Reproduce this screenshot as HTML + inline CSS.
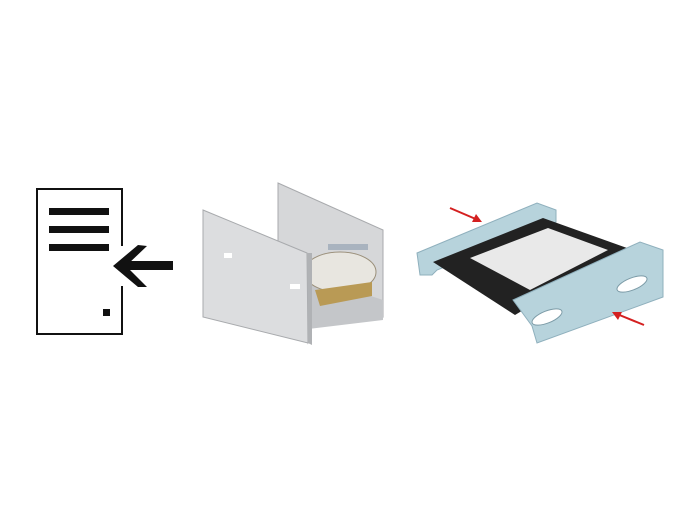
<!DOCTYPE html>
<html><head><style>body{margin:0;background:#fff}svg{display:block}</style></head>
<body>
<svg width="700" height="530" viewBox="0 0 700 530" xmlns="http://www.w3.org/2000/svg">
<rect width="700" height="530" fill="#fff"/>
<!-- document icon -->
<polyline points="122,246 122,189 37,189 37,334 122,334 122,286" fill="none" stroke="#111" stroke-width="2"/>
<rect x="49" y="208" width="60" height="7" fill="#111"/>
<rect x="49" y="226" width="60" height="7" fill="#111"/>
<rect x="49" y="244" width="60" height="7" fill="#111"/>
<rect x="103" y="309" width="7" height="7" fill="#111"/>
<polygon points="113,266 138,245 147,246 126,266 147,287 138,287" fill="#111"/>
<rect x="122" y="261" width="51" height="9" fill="#111"/>
<!-- cage -->
<polygon points="278,183 383,230 383,317 278,272" fill="#d6d7d9" stroke="#a8aaad"/>
<polygon points="290,270 383,300 383,320 300,330 308,345" fill="#c4c6c9"/>
<ellipse cx="340" cy="272" rx="36" ry="20" fill="#e8e6e0" stroke="#9a8f7a"/>
<polygon points="315,290 372,282 372,296 320,306" fill="#b99a55"/>
<polygon points="203,210 307,253 308,343 203,317" fill="#dcdddf" stroke="#a8aaad"/>
<polygon points="307,253 312,253 312,345 308,343" fill="#b0b2b5"/>
<rect x="224" y="253" width="8" height="5" fill="#fff"/>
<rect x="290" y="284" width="10" height="5" fill="#fff"/>
<rect x="328" y="244" width="40" height="6" fill="#a9b3bf"/>
<!-- bracket -->
<polygon points="417,253 537,203 556,210 556,222 437,270 432,275 420,275" fill="#b7d3dc" stroke="#8fb0bd"/>
<polygon points="433,262 543,218 627,248 515,315" fill="#222"/>
<polygon points="470,258 548,228 608,250 530,290" fill="#e9e9e9"/>
<polygon points="513,300 640,242 663,250 663,297 537,343 532,326" fill="#b7d3dc" stroke="#8fb0bd"/>
<ellipse cx="547" cy="317" rx="16" ry="6" transform="rotate(-22 547 317)" fill="#fff" stroke="#7c9ba7"/>
<ellipse cx="632" cy="284" rx="16" ry="6" transform="rotate(-22 632 284)" fill="#fff" stroke="#7c9ba7"/>
<!-- red arrows -->
<line x1="450" y1="208" x2="478" y2="220" stroke="#d42020" stroke-width="2"/>
<polygon points="482,222 472,222 476,214" fill="#d42020"/>
<line x1="644" y1="325" x2="617" y2="314" stroke="#d42020" stroke-width="2"/>
<polygon points="612,312 622,312 618,320" fill="#d42020"/>
</svg>
</body></html>
